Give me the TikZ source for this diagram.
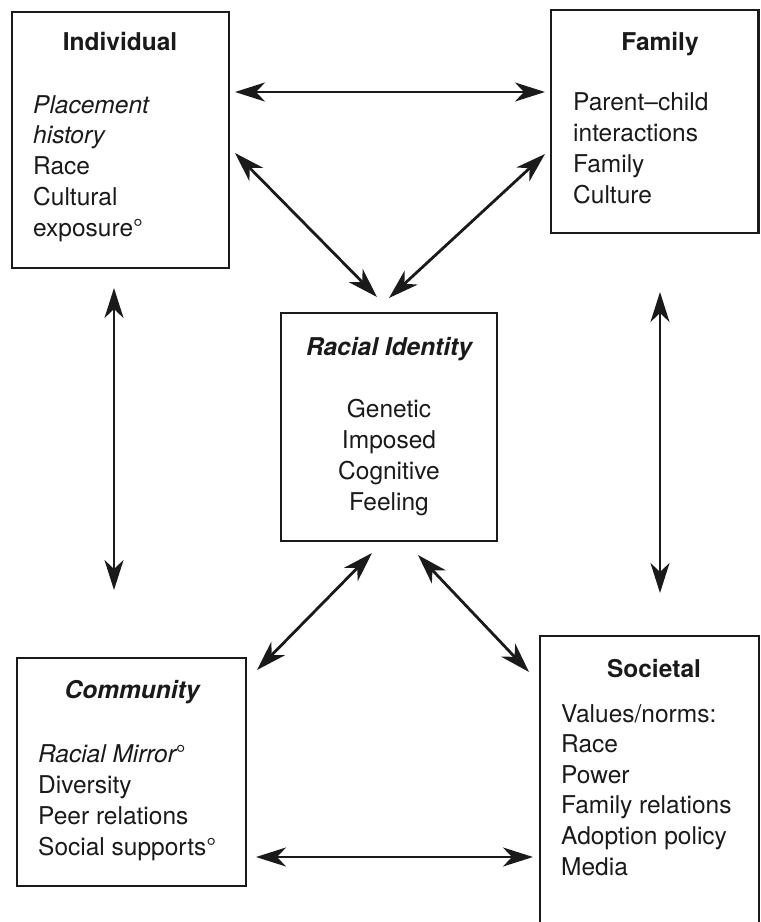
\documentclass[tikz,border=0pt]{standalone}
\usepackage{fontspec}
\setmainfont{TeX Gyre Heros}
\usetikzlibrary{arrows.meta}
\definecolor{ink}{HTML}{1A1A1A}
\begin{document}
\begin{tikzpicture}[x=1pt,y=-1pt,
  box/.style={draw=ink,line width=2.9pt,rectangle,inner sep=0pt},
  txt/.style={anchor=base west,inner sep=0pt,text=ink,font=\fontsize{24.5}{30}\selectfont},
  ctxt/.style={anchor=base,inner sep=0pt,text=ink,font=\fontsize{24.5}{30}\selectfont},
  ttl/.style={anchor=base,inner sep=0pt,text=ink,font=\fontsize{24.5}{30}\selectfont\bfseries},
  arr/.style={draw=ink,line width=2.8pt,{Stealth[length=30pt,width=19pt,inset=9pt]}-{Stealth[length=30pt,width=19pt,inset=9pt]}}]
\useasboundingbox (0,0) rectangle (761,922);
\clip (0,0) rectangle (761,922);
% boxes
\node[box,minimum width=217pt,minimum height=256pt] (ind) at (120.5,140) {};
\node[box,minimum width=207.5pt,minimum height=223pt] (fam) at (654.75,121.5) {};
\node[box,minimum width=216pt,minimum height=228pt] (rid) at (389,427) {};
\node[box,minimum width=229pt,minimum height=228pt] (com) at (131.5,772) {};
\node[box,minimum width=219pt,minimum height=330pt] (soc) at (649.5,801) {};
% Individual
\node[ttl] (indt) at (120,50) {Individual};
\node[txt] (ind1) at (33,113) {\itshape Placement};
\node[txt] (ind2) at (33,143.5) {\itshape history};
\node[txt] (ind3) at (33,174.5) {Race};
\node[txt] (ind4) at (33,205.5) {Cultural};
\node[txt] (ind5) at (33,236) {exposure°};
% Family
\node[ttl] (famt) at (660,50) {Family};
\node[txt] (fam1) at (573,110) {Parent–child};
\node[txt] (fam2) at (573,141) {interactions};
\node[txt] (fam3) at (573,172) {Family};
\node[txt] (fam4) at (573,203) {Culture};
% Racial identity
\node[ttl,font=\fontsize{24.5}{30}\selectfont\bfseries\itshape] (ridt) at (389,355) {Racial Identity};
\node[ctxt] (rid1) at (389,417) {Genetic};
\node[ctxt] (rid2) at (389,448) {Imposed};
\node[ctxt] (rid3) at (389,479) {Cognitive};
\node[ctxt] (rid4) at (389,510) {Feeling};
% Community
\node[ttl,font=\fontsize{24.5}{30}\selectfont\bfseries\itshape] (comt) at (132,698) {Community};
\node[txt] (com1) at (38,762) {\itshape Racial Mirror\upshape°};
\node[txt] (com2) at (38,793) {Diversity};
\node[txt] (com3) at (38,824) {Peer relations};
\node[txt] (com4) at (38,855) {Social supports°};
% Societal
\node[ttl] (soct) at (654,677) {Societal};
\node[txt] (soc1) at (561,722) {Values/norms:};
\node[txt] (soc2) at (561,752.5) {Race};
\node[txt] (soc3) at (561,783) {Power};
\node[txt] (soc4) at (561,813.5) {Family relations};
\node[txt] (soc5) at (561,844) {Adoption policy};
\node[txt] (soc6) at (561,875) {Media};
% arrow end points
\coordinate (a1s) at (235,92);  \coordinate (a1e) at (545,92);
\coordinate (a2s) at (235,153); \coordinate (a2e) at (377,297);
\coordinate (a3s) at (545,154); \coordinate (a3e) at (389,298);
\coordinate (a4s) at (114,288); \coordinate (a4e) at (114,590);
\coordinate (a5s) at (660,292); \coordinate (a5e) at (660,593);
\coordinate (a6s) at (372,553); \coordinate (a6e) at (257,670);
\coordinate (a7s) at (418,555); \coordinate (a7e) at (529,672);
\coordinate (a8s) at (256,857); \coordinate (a8e) at (533,857);
\draw[arr] (a1s) -- (a1e);
\draw[arr] (a2s) -- (a2e);
\draw[arr] (a3s) -- (a3e);
\draw[arr] (a4s) -- (a4e);
\draw[arr] (a5s) -- (a5e);
\draw[arr] (a6s) -- (a6e);
\draw[arr] (a7s) -- (a7e);
\draw[arr] (a8s) -- (a8e);
\end{tikzpicture}
\end{document}
